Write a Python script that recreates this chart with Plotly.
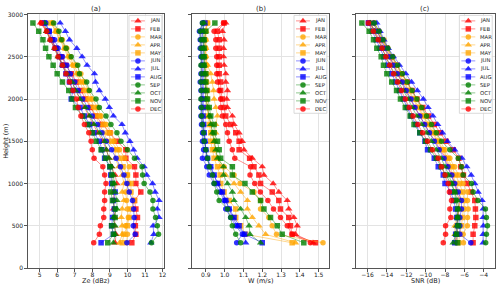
import plotly.graph_objects as go

heights = [300, 400, 500, 600, 700, 800, 900, 1000, 1100, 1200, 1300, 1400, 1500, 1600,
           1700, 1800, 1900, 2000, 2100, 2200, 2300, 2400, 2500, 2600, 2700, 2800, 2900]
months = ["JAN", "FEB", "MAR", "APR", "MAY", "JUN", "JUL", "AUG", "SEP", "OCT", "NOV", "DEC"]
month_colors = ["red", "red", "orange", "orange", "orange", "blue", "blue", "blue",
                "green", "green", "green", "red"]
month_symbols = ["triangle-up", "square", "circle", "triangle-up", "square", "circle",
                 "triangle-up", "square", "circle", "triangle-up", "square", "circle"]

# ---- panel (a): Ze (dBz)
ze_jan = [9.30, 9.35, 9.25, 9.30, 9.20, 9.25, 9.20, 9.40, 9.30, 9.10, 8.95, 8.80, 8.60, 8.30, 8.05, 7.80, 7.55, 7.30, 7.05, 6.85, 6.60, 6.35, 6.10, 5.90, 5.65, 5.40, 5.05]
ze_feb = [10.25, 10.48, 10.45, 10.57, 10.48, 10.40, 10.76, 10.48, 10.48, 10.40, 9.91, 9.91, 9.40, 9.00, 8.55, 8.20, 7.90, 7.60, 7.35, 7.10, 6.80, 6.50, 6.25, 5.95, 5.70, 5.45, 5.15]
ze_mar = [9.95, 10.00, 9.90, 10.05, 10.00, 9.95, 9.90, 10.05, 10.00, 10.10, 9.85, 9.55, 9.25, 9.05, 8.80, 8.50, 8.30, 8.00, 7.80, 7.55, 7.35, 7.10, 6.75, 6.55, 6.30, 6.00, 5.75]
ze_apr = [9.55, 9.70, 9.70, 9.65, 9.70, 9.80, 9.70, 9.80, 9.70, 9.50, 9.30, 9.30, 8.88, 8.65, 8.40, 8.20, 7.95, 7.70, 7.50, 7.30, 7.10, 6.85, 6.60, 6.40, 6.15, 5.90, 5.70]
ze_may = [9.70, 9.80, 10.00, 10.10, 10.20, 10.40, 10.20, 10.20, 10.00, 9.75, 9.60, 9.40, 9.10, 8.90, 8.65, 8.40, 8.15, 7.85, 7.65, 7.40, 7.20, 6.95, 6.70, 6.45, 6.20, 5.95, 5.60]
ze_jun = [9.97, 10.44, 10.33, 10.38, 10.35, 10.29, 10.10, 9.97, 9.80, 9.60, 9.35, 9.10, 8.80, 8.55, 8.30, 8.00, 7.75, 7.45, 7.20, 7.00, 6.75, 6.55, 6.30, 6.05, 5.85, 5.55, 5.35]
ze_jul = [11.33, 11.50, 11.46, 11.80, 11.70, 11.80, 11.58, 11.43, 11.10, 10.95, 10.55, 10.35, 10.14, 9.88, 9.69, 9.20, 8.97, 8.74, 8.40, 8.18, 8.12, 7.70, 7.42, 7.12, 6.70, 6.47, 6.17]
ze_aug = [8.50, 9.20, 9.10, 9.15, 9.25, 9.20, 9.30, 9.10, 9.05, 9.00, 8.70, 8.55, 8.40, 8.10, 7.85, 7.55, 7.30, 6.80, 6.90, 6.70, 6.50, 6.30, 6.13, 5.90, 5.70, 5.55, 5.28]
ze_sep = [11.37, 11.77, 11.70, 11.60, 11.45, 11.45, 11.28, 10.95, 10.86, 10.83, 10.40, 10.00, 9.63, 9.40, 9.06, 8.78, 8.40, 8.21, 7.83, 7.68, 7.27, 7.17, 6.80, 6.51, 6.25, 6.10, 5.80]
ze_oct = [9.20, 9.30, 9.30, 9.20, 9.40, 9.40, 9.30, 9.25, 9.20, 9.10, 8.95, 8.80, 8.70, 8.40, 8.10, 7.85, 7.60, 7.30, 7.05, 6.85, 6.55, 6.30, 6.05, 5.85, 5.60, 5.40, 5.30]
ze_nov = [8.88, 9.20, 9.10, 9.30, 9.30, 9.15, 9.05, 9.16, 9.10, 9.00, 8.75, 8.50, 8.21, 8.00, 7.75, 7.45, 7.04, 6.85, 6.66, 6.30, 6.00, 5.77, 5.53, 5.34, 5.19, 4.95, 4.62]
ze_dec = [8.08, 8.40, 8.46, 8.65, 8.65, 8.70, 8.70, 8.78, 8.70, 8.60, 8.10, 8.00, 7.93, 7.80, 7.55, 7.35, 7.20, 7.10, 6.90, 6.70, 6.50, 6.30, 6.05, 5.85, 5.60, 5.40, 5.10]

# ---- panel (b): W (m/s)
w_jan = [1.470, 1.377, 1.386, 1.368, 1.341, 1.333, 1.288, 1.258, 1.209, 1.200, 1.147, 1.103, 1.094, 1.077, 1.050, 1.041, 1.015, 1.011, 1.015, 1.006, 1.006, 0.997, 0.994, 0.994, 0.997, 0.988, 1.006]
w_feb = [1.483, 1.359, 1.350, 1.341, 1.297, 1.288, 1.253, 1.191, 1.182, 1.156, 1.133, 1.077, 1.077, 1.059, 1.032, 1.006, 0.997, 0.988, 0.979, 0.979, 0.971, 0.971, 0.971, 0.971, 0.971, 0.962, 0.997]
w_mar = [1.523, 1.276, 1.253, 1.235, 1.191, 1.191, 1.156, 1.082, 1.050, 0.997, 0.962, 0.944, 0.944, 0.935, 0.926, 0.918, 0.909, 0.909, 0.909, 0.905, 0.905, 0.905, 0.900, 0.900, 0.900, 0.900, 0.909]
w_apr = [1.377, 1.218, 1.182, 1.147, 1.121, 1.121, 1.085, 1.050, 1.006, 0.979, 0.962, 0.953, 0.944, 0.953, 0.953, 0.962, 0.953, 0.944, 0.941, 0.935, 0.926, 0.909, 0.900, 0.900, 0.900, 0.900, 0.905]
w_may = [1.359, 1.112, 1.085, 1.059, 1.059, 1.024, 0.997, 0.979, 0.976, 0.962, 0.944, 0.935, 0.926, 0.926, 0.918, 0.909, 0.905, 0.900, 0.898, 0.900, 0.896, 0.898, 0.895, 0.896, 0.893, 0.895, 0.909]
w_jun = [1.064, 1.094, 1.059, 1.032, 1.006, 0.997, 0.976, 0.944, 0.918, 0.905, 0.882, 0.888, 0.882, 0.882, 0.877, 0.874, 0.874, 0.877, 0.874, 0.870, 0.874, 0.877, 0.874, 0.870, 0.870, 0.866, 0.882]
w_jul = [1.112, 1.103, 1.068, 1.041, 1.024, 1.006, 0.983, 0.962, 0.941, 0.923, 0.905, 0.900, 0.895, 0.888, 0.885, 0.882, 0.882, 0.880, 0.882, 0.880, 0.882, 0.880, 0.880, 0.877, 0.877, 0.874, 0.888]
w_aug = [1.200, 1.107, 1.077, 1.050, 1.024, 1.006, 0.988, 0.962, 0.944, 0.926, 0.909, 0.900, 0.895, 0.891, 0.888, 0.885, 0.888, 0.885, 0.888, 0.885, 0.888, 0.885, 0.885, 0.882, 0.885, 0.880, 0.895]
w_sep = [1.085, 1.059, 1.041, 1.032, 1.015, 0.971, 0.958, 0.944, 0.935, 0.918, 0.909, 0.900, 0.891, 0.888, 0.882, 0.877, 0.877, 0.874, 0.877, 0.874, 0.877, 0.874, 0.877, 0.874, 0.874, 0.870, 0.882]
w_oct = [1.191, 1.135, 1.130, 1.112, 1.085, 1.050, 1.041, 1.015, 0.994, 0.994, 0.962, 0.953, 0.944, 0.935, 0.926, 0.918, 0.909, 0.900, 0.900, 0.895, 0.895, 0.891, 0.891, 0.888, 0.888, 0.885, 0.891]
w_nov = [1.421, 1.306, 1.280, 1.244, 1.209, 1.191, 1.147, 1.108, 1.041, 1.041, 0.979, 0.971, 0.962, 0.944, 0.944, 0.926, 0.918, 0.909, 0.905, 0.900, 0.900, 0.891, 0.891, 0.891, 0.891, 0.900, 0.948]
w_dec = [1.456, 1.359, 1.333, 1.297, 1.260, 1.230, 1.190, 1.160, 1.135, 1.138, 1.054, 1.041, 1.024, 1.015, 1.006, 0.988, 0.979, 0.979, 0.971, 0.962, 0.958, 0.958, 0.958, 0.953, 0.953, 0.944, 0.994]

# ---- panel (c): SNR (dB)
snr_jan = [-6.90, -6.70, -6.80, -6.60, -6.60, -6.50, -6.80, -7.00, -7.30, -7.70, -7.90, -8.50, -9.00, -9.60, -10.10, -10.60, -11.10, -11.60, -12.10, -12.50, -12.90, -13.40, -13.80, -14.30, -14.80, -15.20, -15.80]
snr_feb = [-5.10, -5.10, -4.93, -4.82, -4.86, -4.93, -5.30, -5.70, -6.10, -6.37, -6.57, -7.16, -7.90, -8.50, -9.10, -9.70, -10.30, -10.90, -11.40, -11.90, -12.50, -13.00, -13.50, -14.00, -14.50, -15.00, -15.90]
snr_mar = [-6.10, -6.13, -5.70, -5.68, -5.61, -5.68, -5.68, -6.13, -6.57, -7.00, -7.50, -8.00, -8.50, -9.00, -9.50, -10.00, -10.50, -11.00, -11.50, -12.00, -12.50, -13.00, -13.40, -13.90, -14.30, -14.80, -15.30]
snr_apr = [-6.90, -6.98, -6.98, -6.80, -6.60, -6.40, -6.50, -6.90, -7.16, -7.50, -7.84, -8.30, -8.80, -9.30, -9.80, -10.30, -10.80, -11.30, -11.80, -12.30, -12.80, -13.30, -13.70, -14.10, -14.60, -15.00, -15.40]
snr_may = [-6.60, -6.50, -6.30, -6.20, -6.10, -6.00, -6.20, -6.50, -6.90, -7.30, -7.70, -8.20, -8.70, -9.20, -9.70, -10.20, -10.70, -11.20, -11.70, -12.20, -12.70, -13.20, -13.60, -14.00, -14.50, -14.90, -15.40]
snr_jun = [-5.34, -6.47, -6.47, -6.47, -6.30, -6.30, -6.64, -7.00, -7.30, -7.70, -8.10, -8.60, -9.10, -9.60, -10.10, -10.60, -11.10, -11.50, -12.00, -12.40, -12.90, -13.30, -13.70, -14.20, -14.60, -15.00, -15.40]
snr_jul = [-4.07, -4.07, -4.04, -4.07, -4.07, -4.17, -4.58, -4.93, -5.30, -5.75, -6.25, -7.00, -7.74, -8.25, -8.75, -9.25, -9.75, -10.24, -10.85, -11.45, -12.05, -12.70, -13.33, -13.85, -14.30, -14.70, -15.04]
snr_aug = [-7.00, -6.90, -6.70, -6.80, -6.90, -7.10, -7.40, -8.00, -8.18, -8.70, -9.11, -9.80, -10.07, -10.60, -11.00, -11.50, -11.90, -12.30, -12.70, -13.10, -13.50, -13.90, -14.30, -14.70, -15.10, -15.50, -15.90]
snr_sep = [-3.80, -3.73, -3.62, -3.73, -3.83, -4.60, -5.10, -5.27, -6.13, -6.30, -6.64, -7.50, -8.36, -8.90, -9.40, -9.90, -10.40, -10.90, -11.40, -11.90, -12.40, -12.90, -13.40, -13.90, -14.40, -14.80, -15.30]
snr_oct = [-7.16, -6.90, -6.80, -6.70, -6.60, -6.70, -7.00, -7.30, -7.60, -8.00, -8.40, -8.90, -9.40, -9.90, -10.40, -10.90, -11.40, -11.80, -12.30, -12.80, -13.20, -13.70, -14.10, -14.50, -14.90, -15.30, -15.70]
snr_nov = [-6.70, -6.80, -6.60, -6.70, -6.71, -6.90, -7.00, -7.40, -7.90, -8.40, -8.90, -9.50, -10.00, -10.60, -11.20, -11.60, -12.10, -12.60, -13.00, -13.50, -14.00, -14.35, -14.59, -15.04, -15.38, -15.83, -16.58]
snr_dec = [-8.18, -7.94, -7.94, -7.40, -7.50, -7.33, -7.55, -7.67, -8.00, -8.36, -8.70, -9.30, -9.80, -10.30, -10.80, -11.30, -11.70, -12.10, -12.50, -12.90, -13.30, -13.70, -14.10, -14.50, -14.90, -15.40, -15.90]

ze_series = [ze_jan, ze_feb, ze_mar, ze_apr, ze_may, ze_jun, ze_jul, ze_aug, ze_sep, ze_oct, ze_nov, ze_dec]
w_series = [w_jan, w_feb, w_mar, w_apr, w_may, w_jun, w_jul, w_aug, w_sep, w_oct, w_nov, w_dec]
snr_series = [snr_jan, snr_feb, snr_mar, snr_apr, snr_may, snr_jun, snr_jul, snr_aug, snr_sep, snr_oct, snr_nov, snr_dec]

panel_titles = ["(a)", "(b)", "(c)"]
x_titles = ["Ze (dBz)", "W (m/s)", "SNR (dB)"]

FONT = "DejaVu Sans"
W_PX, H_PX = 500, 289
# panel pixel boxes (left, right)
panels_px = [(28.3, 165.0), (192.7, 330.7), (357.7, 496.7)]
top_px, bot_px = 10.7, 270.7

COLOR_MAP = {"red": "rgba(255,0,0,{a})", "orange": "rgba(255,165,0,{a})",
             "blue": "rgba(0,0,255,{a})", "green": "rgba(0,128,0,{a})"}


def msize(sym):
    return 6.5 if sym == "triangle-up" else 5.5


fig = go.Figure()

axes_ids = [("x", "y"), ("x2", "y2"), ("x3", "y3")]
for p, series in enumerate([ze_series, w_series, snr_series]):
    xa, ya = axes_ids[p]
    for i, vals in enumerate(series):
        c = month_colors[i]
        fig.add_trace(go.Scatter(
            x=vals, y=heights, xaxis=xa, yaxis=ya, mode="lines+markers",
            name=months[i], showlegend=False,
            line=dict(color=COLOR_MAP[c].format(a=0.55), width=0.8),
            marker=dict(symbol=month_symbols[i], size=msize(month_symbols[i]),
                        color=COLOR_MAP[c].format(a=0.8), line=dict(width=0))))

# ---- custom legends on an overlay pixel-coordinate axis
for p in range(3):
    left, right = panels_px[p]
    bx0, bx1 = right - 35.5, right - 2.5
    by0, by1 = top_px + 1.0, top_px + 101.3
    fig.add_trace(go.Scatter(
        x=[bx0, bx1, bx1, bx0, bx0], y=[by0, by0, by1, by1, by0],
        xaxis="x4", yaxis="y4", mode="lines", fill="toself",
        fillcolor="rgba(255,255,255,0.85)", line=dict(color="#d0d0d0", width=0.8),
        showlegend=False, hoverinfo="skip"))
    for i in range(12):
        yy = top_px + 6.6 + i * 8.2
        c = month_colors[i]
        fig.add_trace(go.Scatter(
            x=[bx0 + 2.0, bx0 + 16.0], y=[yy, yy], xaxis="x4", yaxis="y4",
            mode="lines", line=dict(color=COLOR_MAP[c].format(a=0.55), width=0.8),
            showlegend=False, hoverinfo="skip"))
        fig.add_trace(go.Scatter(
            x=[bx0 + 9.0], y=[yy], xaxis="x4", yaxis="y4", mode="markers",
            marker=dict(symbol=month_symbols[i], size=msize(month_symbols[i]),
                        color=COLOR_MAP[c].format(a=0.8), line=dict(width=0)),
            showlegend=False, hoverinfo="skip"))
        fig.add_annotation(x=bx0 + 19.0, y=yy, xref="x4", yref="y4", text=months[i],
                           showarrow=False, xanchor="left", yanchor="middle",
                           font=dict(family=FONT, size=5.3, color="#222"))

ax_common = dict(showline=True, mirror=True, linecolor="#555", linewidth=0.8,
                 showgrid=True, gridcolor="#e3e3e3", gridwidth=0.7, zeroline=False,
                 ticks="outside", ticklen=3, tickwidth=0.8, tickcolor="#555",
                 tickfont=dict(family=FONT, size=6, color="#222"))

ydom = [1 - bot_px / H_PX, 1 - top_px / H_PX]
xdoms = [[l / W_PX, r / W_PX] for (l, r) in panels_px]

fig.update_layout(
    width=W_PX, height=H_PX, margin=dict(l=0, r=0, t=0, b=0),
    paper_bgcolor="white", plot_bgcolor="rgba(0,0,0,0)",
    font=dict(family=FONT, size=6, color="#222"), showlegend=False,
    xaxis=dict(domain=xdoms[0], range=[4.35, 12.1], tick0=5, dtick=1, anchor="y",
               ticklabelstandoff=-2, **ax_common),
    yaxis=dict(domain=ydom, range=[0, 3000], tick0=0, dtick=500, anchor="x", **ax_common),
    xaxis2=dict(domain=xdoms[1], range=[0.826, 1.557], tick0=0.9, dtick=0.1,
                tickformat=".1f", anchor="y2", ticklabelstandoff=-2, **ax_common),
    yaxis2=dict(domain=ydom, range=[0, 3000], tick0=0, dtick=500, anchor="x2",
                showticklabels=False, **ax_common),
    xaxis3=dict(domain=xdoms[2], range=[-17.16, -2.87], tick0=-16, dtick=2, anchor="y3",
                ticklabelstandoff=-2, **ax_common),
    yaxis3=dict(domain=ydom, range=[0, 3000], tick0=0, dtick=500, anchor="x3",
                showticklabels=False, **ax_common),
    xaxis4=dict(domain=[0, 1], range=[0, W_PX], visible=False, anchor="y4", fixedrange=True),
    yaxis4=dict(domain=[0, 1], range=[H_PX, 0], visible=False, anchor="x4", fixedrange=True),
)

for p in range(3):
    left, right = panels_px[p]
    cx = (left + right) / 2 / W_PX
    fig.add_annotation(x=cx, y=1 - 5.3 / H_PX, xref="paper", yref="paper", text=panel_titles[p],
                       showarrow=False, xanchor="center", yanchor="middle",
                       font=dict(family=FONT, size=7, color="#222"))
    fig.add_annotation(x=cx, y=1 - 284.3 / H_PX, xref="paper", yref="paper", text=x_titles[p],
                       showarrow=False, xanchor="center", yanchor="middle",
                       font=dict(family=FONT, size=6.5, color="#222"))

fig.add_annotation(x=6.5 / W_PX, y=1 - 140.7 / H_PX, xref="paper", yref="paper", text="Height (m)",
                   showarrow=False, textangle=-90, xanchor="center", yanchor="middle",
                   font=dict(family=FONT, size=6.5, color="#222"))

fig.write_html("out.html", config={"displayModeBar": False},
               post_script="document.body.style.margin='0px';document.body.style.padding='0px';")
